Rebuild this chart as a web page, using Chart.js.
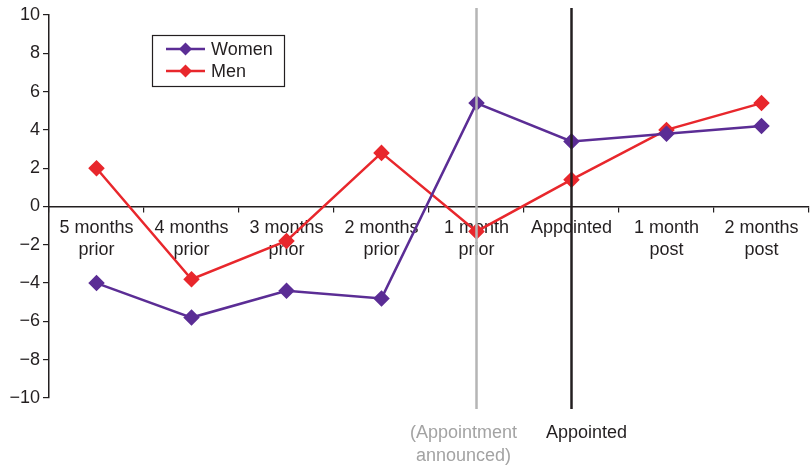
<!DOCTYPE html>
<html>
<head>
<meta charset="utf-8">
<script src="https://cdn.jsdelivr.net/npm/chart.js@4/dist/chart.umd.min.js"></script>
<style>
  html, body { margin: 0; padding: 0; background: #fff; }
  #wrap { width: 810px; height: 467px; position: relative; }
</style>
</head>
<body>
<div id="wrap"><canvas id="trendChart"></canvas></div>
<script>
// data
const categories = [
    ['5 months', 'prior'], ['4 months', 'prior'], ['3 months', 'prior'], ['2 months', 'prior'],
    ['1 month', 'prior'], 'Appointed', ['1 month', 'post'], ['2 months', 'post']
];
const womenValues = [-4.0, -5.8, -4.4, -4.8, 5.4, 3.4, 3.8, 4.2];
const menValues = [2.0, -3.8, -1.8, 2.8, -1.3, 1.4, 4.0, 5.4];
const yMin = -10;
const yMax = 10;
const yStep = 2;
const announcedIndex = 4;
const appointedIndex = 5;
const announcedLabel = ['(Appointment', 'announced)'];
const appointedLabel = ['Appointed'];

const FONT = '"Liberation Sans", Arial, Helvetica, sans-serif';
const INK = '#231f20';

// vertical marker lines + captions, and the boxed legend
const markersPlugin = {
    id: 'markers',
    afterDatasetsDraw(chart) {
        const ctx = chart.ctx;
        const area = chart.chartArea;
        const x = chart.scales.x;
        const lines = [
            { idx: announcedIndex, color: '#b5b5b5', text: announcedLabel, textColor: '#a3a3a3', dx: -13 },
            { idx: appointedIndex, color: INK, text: appointedLabel, textColor: INK, dx: 15 }
        ];
        ctx.save();
        lines.forEach(l => {
            const px = Math.round(x.getPixelForValue(l.idx)) - 0.5;
            ctx.strokeStyle = l.color;
            ctx.lineWidth = 2.5;
            ctx.beginPath();
            ctx.moveTo(px, area.top - 7);
            ctx.lineTo(px, area.bottom + 11);
            ctx.stroke();
            ctx.fillStyle = l.textColor;
            ctx.font = '18px ' + FONT;
            ctx.textAlign = 'center';
            ctx.textBaseline = 'middle';
            l.text.forEach((t, i) => ctx.fillText(t, px + l.dx, area.bottom + 35 + i * 23));
        });

        // legend
        const lx = area.left + 103, ly = area.top + 20, lw = 132, lh = 51;
        ctx.strokeStyle = INK;
        ctx.lineWidth = 1.2;
        ctx.strokeRect(lx + 0.5, ly + 0.5, lw, lh);
        chart.data.datasets.forEach((ds, i) => {
            const cy = ly + 14 + i * 22;
            ctx.strokeStyle = ds.borderColor;
            ctx.lineWidth = 2.5;
            ctx.beginPath();
            ctx.moveTo(lx + 14, cy);
            ctx.lineTo(lx + 53, cy);
            ctx.stroke();
            ctx.fillStyle = ds.borderColor;
            ctx.beginPath();
            ctx.moveTo(lx + 33.5, cy - 6.5);
            ctx.lineTo(lx + 40, cy);
            ctx.lineTo(lx + 33.5, cy + 6.5);
            ctx.lineTo(lx + 27, cy);
            ctx.closePath();
            ctx.fill();
            ctx.fillStyle = INK;
            ctx.font = '18px ' + FONT;
            ctx.textAlign = 'left';
            ctx.textBaseline = 'middle';
            ctx.fillText(ds.label, lx + 59, cy + 1);
        });
        ctx.restore();
    }
};

const chart = new Chart(document.getElementById('trendChart'), {
    type: 'line',
    data: {
        labels: categories,
        datasets: [{
            label: 'Women',
            data: womenValues,
            borderColor: '#5b2d95',
            backgroundColor: '#5b2d95',
            borderWidth: 2.5,
            pointStyle: 'rectRot',
            pointRadius: 6.5,
            pointHoverRadius: 6.5,
            tension: 0
        }, {
            label: 'Men',
            data: menValues,
            borderColor: '#e8272c',
            backgroundColor: '#e8272c',
            borderWidth: 2.5,
            pointStyle: 'rectRot',
            pointRadius: 6.5,
            pointHoverRadius: 6.5,
            tension: 0
        }]
    },
    options: {
        responsive: true,
        maintainAspectRatio: false,
        animation: false,
        layout: { autoPadding: false, padding: { top: 15, bottom: 69, left: 0, right: 1 } },
        plugins: {
            legend: { display: false },
            tooltip: { enabled: false }
        },
        scales: {
            x: {
                position: { y: 0 },
                offset: true,
                grid: { offset: true, drawOnChartArea: false, tickLength: 5, color: INK, lineWidth: 1.2 },
                border: { color: INK, width: 1.5 },
                ticks: {
                    autoSkip: false,
                    maxRotation: 0,
                    padding: 5,
                    color: INK,
                    font: { family: FONT, size: 18, lineHeight: 1.25 }
                },
                afterFit: scale => { scale.paddingLeft = 0; scale.paddingRight = 0; }
            },
            y: {
                min: yMin,
                max: yMax,
                grid: { drawOnChartArea: false, tickLength: 6, color: INK, lineWidth: 1.2 },
                border: { color: INK, width: 1.5 },
                ticks: {
                    stepSize: yStep,
                    padding: 3,
                    color: INK,
                    font: { family: FONT, size: 18 },
                    callback: v => (v < 0 ? '\u2212' + Math.abs(v) : String(v))
                },
                afterFit: scale => { scale.width = 49; }
            }
        }
    },
    plugins: [markersPlugin]
});
</script>
</body>
</html>
